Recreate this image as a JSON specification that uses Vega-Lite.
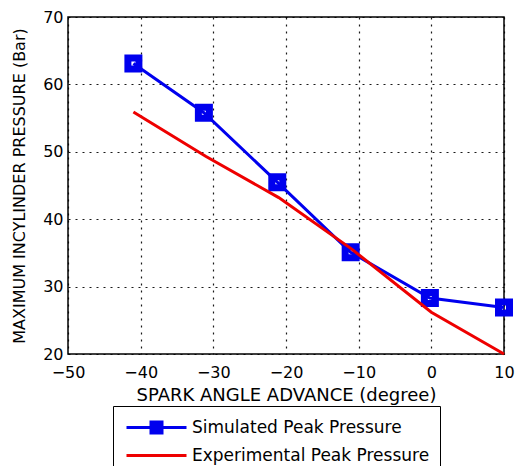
{
  "$schema": "https://vega.github.io/schema/vega-lite/v6.json",
  "width": 436,
  "height": 337,
  "autosize": {"type": "none"},
  "padding": {"left": 68, "top": 17, "right": 11, "bottom": 112},
  "background": "white",
  "config": {
    "font": "DejaVu Sans",
    "view": {"stroke": "black", "strokeWidth": 1.5},
    "axis": {
      "labelFont": "DejaVu Sans",
      "titleFont": "DejaVu Sans",
      "labelFontSize": 16,
      "titleFontSize": 16,
      "titleFontWeight": "normal",
      "labelColor": "black",
      "titleColor": "black",
      "domain": false,
      "ticks": false,
      "gridColor": "black",
      "gridDash": [2, 5],
      "gridWidth": 1.2,
      "gridOpacity": 0.9
    }
  },
  "data": {
    "values": [
      {"series": "Simulated Peak Pressure", "x": -41, "y": 63.1},
      {"series": "Simulated Peak Pressure", "x": -31.3, "y": 55.8},
      {"series": "Simulated Peak Pressure", "x": -21.2, "y": 45.5},
      {"series": "Simulated Peak Pressure", "x": -11.1, "y": 35.1},
      {"series": "Simulated Peak Pressure", "x": -0.2, "y": 28.3},
      {"series": "Simulated Peak Pressure", "x": 10, "y": 26.9},
      {"series": "Experimental Peak Pressure", "x": -41, "y": 55.9},
      {"series": "Experimental Peak Pressure", "x": -31, "y": 49.3},
      {"series": "Experimental Peak Pressure", "x": -21, "y": 43.2},
      {"series": "Experimental Peak Pressure", "x": -11, "y": 35.6},
      {"series": "Experimental Peak Pressure", "x": 0, "y": 26.2},
      {"series": "Experimental Peak Pressure", "x": 10, "y": 20}
    ]
  },
  "encoding": {
    "x": {
      "field": "x", "type": "quantitative",
      "scale": {"domain": [-50, 10], "nice": false, "zero": false},
      "axis": {"values": [-50, -40, -30, -20, -10, 0, 10], "title": "SPARK ANGLE ADVANCE (degree)", "titleFontSize": 18, "labelPadding": 10, "titlePadding": 6, "labelFlush": false}
    },
    "y": {
      "field": "y", "type": "quantitative",
      "scale": {"domain": [20, 70], "nice": false, "zero": false},
      "axis": {"values": [20, 30, 40, 50, 60, 70], "title": "MAXIMUM INCYLINDER PRESSURE (Bar)", "labelPadding": 5, "titlePadding": 15}
    },
    "color": {
      "field": "series", "type": "nominal",
      "scale": {"domain": ["Simulated Peak Pressure", "Experimental Peak Pressure"], "range": ["#0000ee", "#ee0000"]}
    }
  },
  "layer": [
    {
      "transform": [{"filter": "datum.series === 'Simulated Peak Pressure'"}],
      "mark": {"type": "line", "strokeWidth": 3},
      "encoding": {
        "color": {
          "field": "series", "type": "nominal",
          "legend": {
            "orient": "none",
            "legendX": 45,
            "legendY": 389,
            "title": null,
            "strokeColor": "black",
            "fillColor": "white",
            "padding": 10,
            "symbolSize": 400,
            "symbolStrokeWidth": 3,
            "symbolOffset": 22,
            "labelOffset": 24,
            "labelLimit": 0,
            "rowPadding": 5,
            "labelFontSize": 17,
            "labelFont": "DejaVu Sans",
            "labelColor": "black",
            "encode": {
              "symbols": {
                "update": {
                  "shape": {"signal": "datum.value === 'Simulated Peak Pressure' ? 'M-3,0H3M-0.55,-0.55H0.55V0.55H-0.55Z' : 'M-3,0H3'"},
                  "fill": {"signal": "datum.value === 'Simulated Peak Pressure' ? '#0000ee' : 'transparent'"},
                  "strokeWidth": {"value": 3}
                }
              }
            }
          }
        }
      }
    },
    {
      "transform": [{"filter": "datum.series === 'Simulated Peak Pressure'"}],
      "mark": {"type": "point", "shape": "square", "filled": false, "size": 121, "strokeWidth": 7, "opacity": 1},
      "encoding": {"color": {"field": "series", "type": "nominal", "legend": null}}
    },
    {
      "transform": [{"filter": "datum.series === 'Experimental Peak Pressure'"}],
      "mark": {"type": "line", "strokeWidth": 3},
      "encoding": {"color": {"field": "series", "type": "nominal", "legend": null}}
    }
  ]
}
